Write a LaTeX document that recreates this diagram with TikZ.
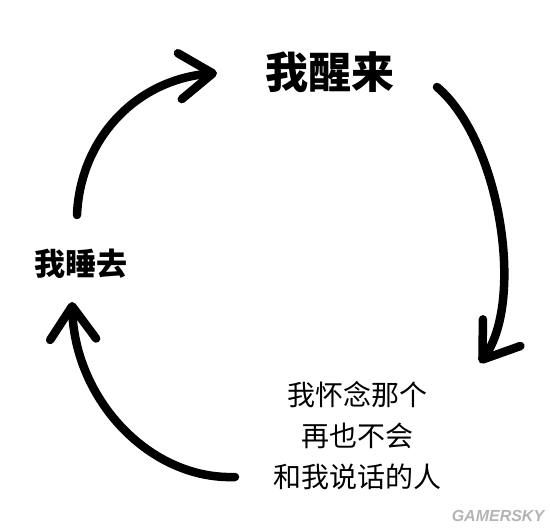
\documentclass[tikz,border=0pt]{standalone}
\usepackage{fontspec}
\newfontfamily\cjk{Noto Sans CJK SC}
\newfontfamily\cjkheavy{Noto Sans CJK SC Black}
\newfontfamily\markfont{Liberation Sans}
\definecolor{markgray}{HTML}{B4B4B4}
\usetikzlibrary{arrows.meta, positioning}

\begin{document}
\begin{tikzpicture}[x=1pt, y=-1pt,
      loop arrow/.style={line width=8.5pt, line cap=round,
         -{Straight Barb[length=33pt, width=46pt, line cap=round, line join=round]}}]
            \useasboundingbox (0,0) rectangle (550,532);
            % Labels
            \node[font=\cjkheavy\fontsize{43}{43}\selectfont] (wake) at (330,72) {我醒来};
            \node[font=\cjkheavy\fontsize{31}{31}\selectfont] (sleep) at (81,264) {我睡去};
            \node[font=\cjk\fontsize{28}{41}\selectfont, align=center] (miss) at (357,436)
               {我怀念那个\\再也不会\\和我说话的人};
            \node[font=\markfont\bfseries\itshape\fontsize{16}{16}\selectfont, text=markgray]
               (mark) at (498,516) {GAMERSKY};
            % Arrow ends
            \coordinate (sleep-out) at (77,215);
            \coordinate (wake-in) at (217,73);
            \coordinate (wake-out) at (437,87);
            \coordinate (miss-in) at (480,363);
            \coordinate (miss-out) at (235,477);
            \coordinate (sleep-in) at (72,302);
            % Cycle arrows
            \draw[loop arrow] (sleep-out) .. controls (80,140) and (135,80) .. (wake-in);
            \draw[loop arrow] (wake-out) .. controls (500,140) and (525,300) .. (miss-in);
            \draw[loop arrow] (miss-out) .. controls (150,480) and (75,400) .. (sleep-in);
         \end{tikzpicture}
\end{document}
